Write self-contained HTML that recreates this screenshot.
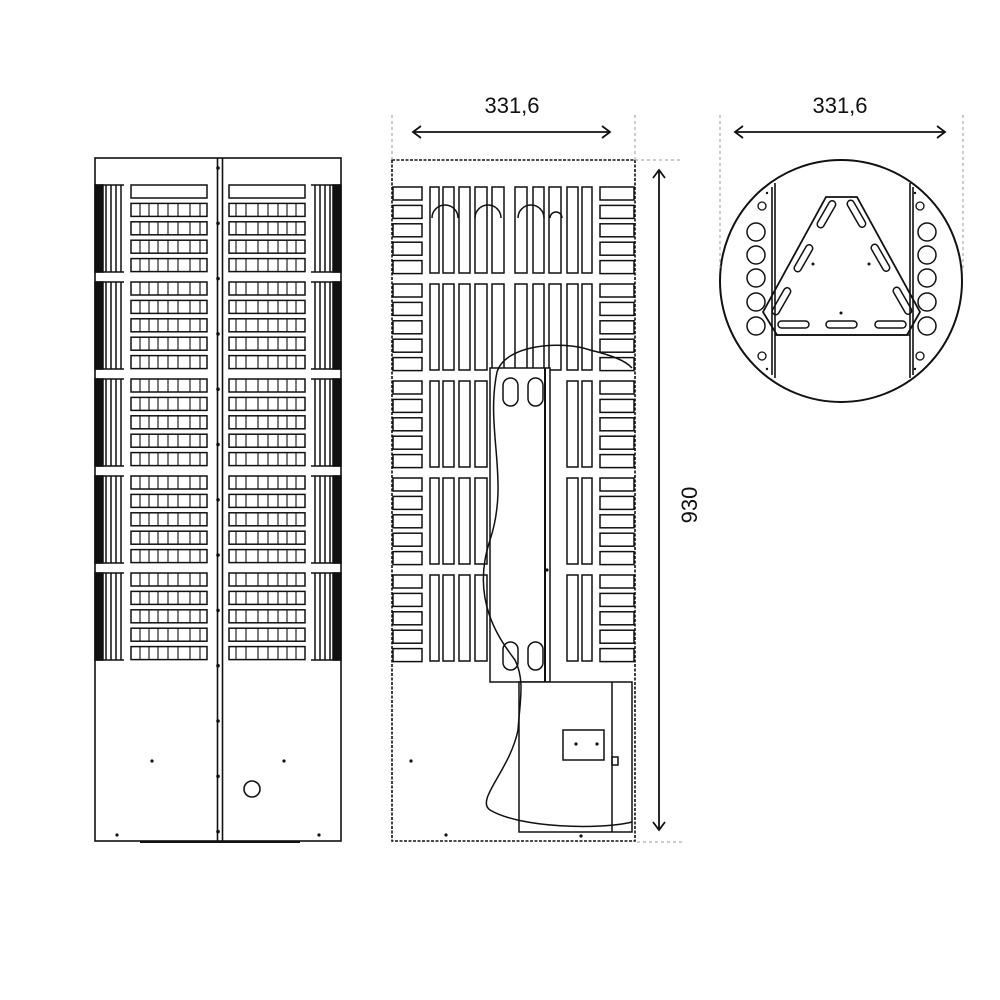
<!DOCTYPE html>
<html><head><meta charset="utf-8"><style>
html,body{margin:0;padding:0;background:#fff}
svg{display:block}
text{font-family:"Liberation Sans",sans-serif;font-size:22px;fill:#111}
</style></head><body>
<svg id="s" width="1000" height="1000" viewBox="0 0 1000 1000" xmlns="http://www.w3.org/2000/svg">
<rect width="1000" height="1000" fill="#fff"/>
<g id="L" fill="none" stroke="#111" stroke-width="1.6">
  <rect x="95" y="158" width="246" height="683"/>
  <line x1="217.5" y1="158" x2="217.5" y2="841"/>
  <line x1="222.5" y1="158" x2="222.5" y2="841"/>
  <line x1="140" y1="842" x2="300" y2="842" stroke-width="2"/>
  <circle cx="252" cy="789" r="8"/>
</g>
<g id="M" fill="none" stroke="#111" stroke-width="1.6">
  <rect x="392" y="160" width="243" height="681" stroke-dasharray="3 1.5"/>
</g>
<g id="R" fill="none" stroke="#111" stroke-width="1.6">
  <circle cx="841" cy="281" r="121" stroke-width="2"/>
  <line x1="772" y1="187" x2="772" y2="375"/><line x1="775" y1="183" x2="775" y2="378"/>
  <line x1="910" y1="183" x2="910" y2="378"/><line x1="913" y1="187" x2="913" y2="375"/>
  <line x1="775" y1="335" x2="910" y2="335"/>
  <path d="M826 197 L857 197 L920 312 L907 335 L777 335 L763 312 Z" stroke-width="1.8"/>
  <g stroke-width="1.5">
    <rect x="823" y="199" width="7" height="30" rx="3.5" transform="rotate(30 826 214)"/>
    <rect x="853" y="199" width="7" height="30" rx="3.5" transform="rotate(-30 856 214)"/>
    <rect x="800" y="243" width="7" height="30" rx="3.5" transform="rotate(30 803 258)"/>
    <rect x="877" y="243" width="7" height="30" rx="3.5" transform="rotate(-30 880 258)"/>
    <rect x="778" y="286" width="7" height="30" rx="3.5" transform="rotate(30 781 301)"/>
    <rect x="899" y="286" width="7" height="30" rx="3.5" transform="rotate(-30 902 301)"/>
    <rect x="778" y="321" width="31" height="7" rx="3.5"/>
    <rect x="826" y="321" width="31" height="7" rx="3.5"/>
    <rect x="875" y="321" width="31" height="7" rx="3.5"/>
  </g>
  <g stroke-width="1.3">
    <circle cx="762" cy="206" r="4"/><circle cx="920" cy="206" r="4"/>
    <circle cx="762" cy="356" r="4"/><circle cx="920" cy="356" r="4"/>
  </g>
  <g fill="#111" stroke="none">
    <circle cx="813" cy="264" r="1.5"/><circle cx="869" cy="264" r="1.5"/><circle cx="841" cy="313" r="1.5"/>
    <circle cx="767" cy="193" r="1.2"/><circle cx="915" cy="193" r="1.2"/>
    <circle cx="767" cy="369" r="1.2"/><circle cx="915" cy="369" r="1.2"/>
  </g>
</g>
<g stroke="#999" stroke-width="1" stroke-dasharray="3 3" fill="none">
  <line x1="392" y1="115" x2="392" y2="160"/><line x1="635" y1="115" x2="635" y2="160"/>
  <line x1="720" y1="115" x2="720" y2="270"/><line x1="963" y1="115" x2="963" y2="270"/>
  <line x1="635" y1="160" x2="683" y2="160"/><line x1="637" y1="842" x2="683" y2="842"/>
</g>
<g stroke="#111" stroke-width="1.8" fill="none">
  <line x1="413" y1="132" x2="610" y2="132"/>
  <polyline points="421,126 413,132 421,138"/><polyline points="602,126 610,132 602,138"/>
  <line x1="735" y1="132" x2="945" y2="132"/>
  <polyline points="743,126 735,132 743,138"/><polyline points="937,126 945,132 937,138"/>
  <line x1="659" y1="170" x2="659" y2="830"/>
  <polyline points="653,178 659,170 665,178"/><polyline points="653,822 659,830 665,822"/>
</g>
<text x="512" y="113" text-anchor="middle">331,6</text>
<text x="840" y="113" text-anchor="middle">331,6</text>
<text x="0" y="0" text-anchor="middle" transform="translate(697 505) rotate(-90)">930</text>
</svg>
<script>
var NS="http://www.w3.org/2000/svg",S=document.getElementById('s');
function el(t,a,p){var e=document.createElementNS(NS,t);for(var k in a)e.setAttribute(k,a[k]);(p||S).appendChild(e);return e;}
var g=el('g',{fill:'none',stroke:'#111','stroke-width':'1.5'});
var groups=[185,282,379,476,573];
groups.forEach(function(gy){
  el('rect',{x:95,y:gy,width:8,height:87,fill:'#111'},g);
  [106,111,116,121].forEach(function(x){el('line',{x1:x,y1:gy,x2:x,y2:gy+87},g);});
  el('rect',{x:333,y:gy,width:8,height:87,fill:'#111'},g);
  [315,320,325,330].forEach(function(x){el('line',{x1:x,y1:gy,x2:x,y2:gy+87},g);});
  el('line',{x1:95,y1:gy,x2:124,y2:gy},g);el('line',{x1:95,y1:gy+87,x2:124,y2:gy+87},g);
  el('line',{x1:311,y1:gy,x2:341,y2:gy},g);el('line',{x1:311,y1:gy+87,x2:341,y2:gy+87},g);
  for(var i=0;i<5;i++){var y=gy+i*18.4;
    el('rect',{x:131,y:y,width:76,height:13},g);
    el('rect',{x:229,y:y,width:76,height:13},g);
    if(!(gy==185&&i==0)){
      [140,149,158,168,178,190,200].forEach(function(x){el('line',{x1:x,y1:y,x2:x,y2:y+13,'stroke-width':1.1},g);});
      [236,246,258,268,278,287,296].forEach(function(x){el('line',{x1:x,y1:y,x2:x,y2:y+13,'stroke-width':1.1},g);});
    }
  }
});
for(var y=168;y<841;y+=55.3)el('circle',{cx:218,cy:y,r:1.8,fill:'#111',stroke:'none'},g);
[[152,761],[284,761],[117,835],[319,835]].forEach(function(p){el('circle',{cx:p[0],cy:p[1],r:1.6,fill:'#111',stroke:'none'},g);});
var vx=[[430,9],[443,11],[459,11],[475,12],[492,12],[515,12],[533,11],[549,12],[567,11],[582,10]];
groups.forEach(function(gy0){var gy=gy0+2;
  for(var i=0;i<5;i++){var y=gy+i*18.4;
    el('rect',{x:393,y:y,width:29,height:13},g);
    el('rect',{x:600,y:y,width:34,height:13},g);}
  vx.forEach(function(v){ if(gy0>=379&&v[0]>=492&&v[0]<=549) return; el('rect',{x:v[0],y:gy,width:v[1],height:86},g);});
});
[[445,228],[488,228],[531,228],[556,220]].forEach(function(a,i){
  var w=i==3?6:13;el('path',{d:'M'+(a[0]-w)+' 218 A'+w+' '+w+' 0 0 1 '+(a[0]+w)+' 218',fill:'none'},g);});
el('rect',{x:490,y:368,width:60,height:314,fill:'#fff'},g);
el('line',{x1:545,y1:368,x2:545,y2:682,'stroke-width':2},g);
el('rect',{x:503,y:378,width:15,height:28,rx:7.5},g);el('rect',{x:528,y:378,width:15,height:28,rx:7.5},g);
el('rect',{x:503,y:642,width:15,height:28,rx:7.5},g);el('rect',{x:528,y:642,width:15,height:28,rx:7.5},g);
el('rect',{x:519,y:682,width:113,height:150,fill:'#fff'},g);
el('line',{x1:612,y1:682,x2:612,y2:832},g);
el('rect',{x:563,y:730,width:41,height:30},g);
el('rect',{x:612,y:757,width:6,height:8},g);
el('path',{d:'M497 372 C505 345 560 340 590 350 C610 355 625 360 632 368',fill:'none'},g);
el('path',{d:'M497 372 C485 430 510 480 490 540 C470 600 500 640 515 660 C525 680 520 700 518 730 C510 770 475 800 490 810 C520 828 600 830 632 822',fill:'none'},g);
[[411,761],[446,835],[581,836],[576,744],[597,744],[547,570]].forEach(function(p){el('circle',{cx:p[0],cy:p[1],r:1.6,fill:'#111',stroke:'none'},g);});
[232,255,278,302,326].forEach(function(y){el('circle',{cx:756,cy:y,r:9},g);el('circle',{cx:927,cy:y,r:9},g);});
</script>
</body></html>
